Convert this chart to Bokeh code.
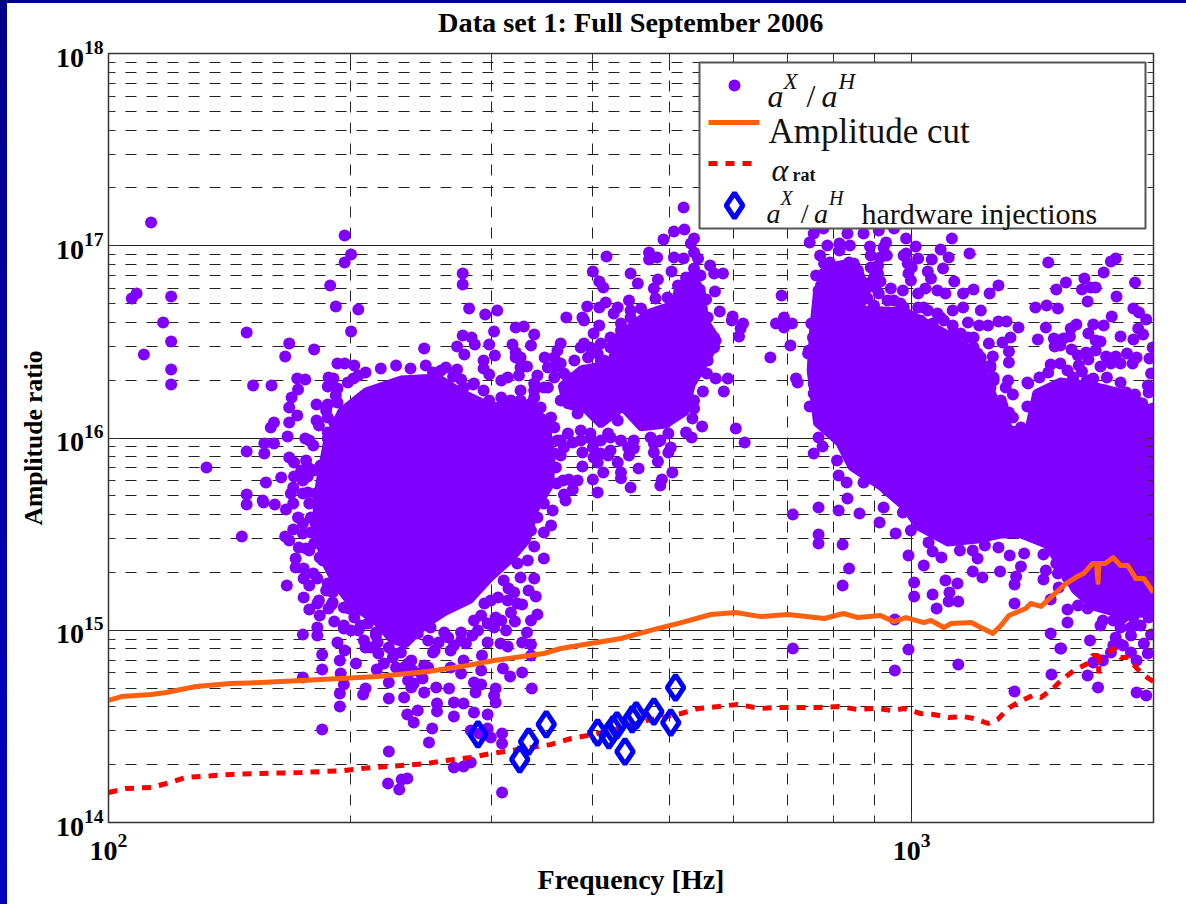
from bokeh.plotting import figure
from bokeh.embed import file_html
from bokeh.resources import INLINE
from bokeh.models import (Range1d, FixedTicker, LogAxis, Grid, Label,
                          LogTickFormatter, LogScale, LinearScale)

title_text = "Data set 1: Full September 2006"
x_label = "Frequency [Hz]"
y_label = "Amplitude ratio"
x_major = [100, 1000]
x_minor = [200, 300, 400, 500, 600, 700, 800, 900, 2000]
y_major = [1e14, 1e15, 1e16, 1e17, 1e18]
y_minor = [m * 10.0 ** d for d in (14, 15, 16, 17) for m in (2, 3, 4, 5, 6, 7, 8, 9)]

# all values below are (log10 frequency [Hz], log10 amplitude ratio)
amplitude_cut = [(2.000,14.635),(2.016,14.655),(2.053,14.666),(2.072,14.676),(2.090,14.692),(2.109,14.707),(2.152,14.723),(2.190,14.728),(2.240,14.739),(2.289,14.749),(2.335,14.759),(2.398,14.785),(2.439,14.811),(2.480,14.843),(2.542,14.879),(2.563,14.905),(2.600,14.931),(2.638,14.957),(2.675,14.999),(2.713,15.040),(2.750,15.082),(2.781,15.092),(2.812,15.071),(2.846,15.082),(2.891,15.061),(2.915,15.087),(2.933,15.066),(2.961,15.077),(2.978,15.045),(2.993,15.066),(3.015,15.040),(3.024,15.051),(3.040,15.014),(3.049,15.035),(3.074,15.040),(3.086,15.014),(3.101,14.983),(3.111,15.025),(3.121,15.077),(3.142,15.113),(3.148,15.139),(3.161,15.124),(3.173,15.170),(3.192,15.243),(3.204,15.274),(3.214,15.295),(3.225,15.347),(3.230,15.347),(3.232,15.248),(3.233,15.347),(3.241,15.347),(3.251,15.378),(3.260,15.337),(3.269,15.337),(3.279,15.269),(3.289,15.269),(3.301,15.196)]
alpha_rat = [(2.000,14.156),(2.022,14.177),(2.053,14.182),(2.072,14.203),(2.096,14.234),(2.152,14.250),(2.190,14.255),(2.240,14.260),(2.293,14.270),(2.314,14.281),(2.348,14.291),(2.398,14.307),(2.418,14.322),(2.451,14.338),(2.476,14.359),(2.501,14.374),(2.551,14.406),(2.576,14.437),(2.597,14.453),(2.638,14.489),(2.671,14.531),(2.713,14.567),(2.734,14.593),(2.759,14.603),(2.783,14.614),(2.812,14.593),(2.831,14.598),(2.856,14.598),(2.881,14.598),(2.909,14.603),(2.933,14.588),(2.955,14.593),(2.976,14.583),(2.990,14.593),(3.011,14.567),(3.027,14.562),(3.046,14.546),(3.064,14.551),(3.077,14.541),(3.095,14.515),(3.107,14.536),(3.120,14.593),(3.132,14.624),(3.151,14.661),(3.161,14.650),(3.176,14.697),(3.186,14.739),(3.202,14.791),(3.219,14.827),(3.225,14.869),(3.232,14.869),(3.233,14.775),(3.234,14.858),(3.241,14.869),(3.251,14.905),(3.260,14.858),(3.269,14.858),(3.275,14.827),(3.285,14.780),(3.295,14.749),(3.301,14.733)]
injections = [(2.460,14.458),(2.512,14.328),(2.523,14.421),(2.545,14.510),(2.609,14.468),(2.623,14.453),(2.628,14.484),(2.633,14.505),(2.643,14.369),(2.652,14.536),(2.657,14.557),(2.679,14.577),(2.700,14.520),(2.706,14.702)]

# outlines of the areas where the dots merge into solid colour and cannot be told apart
solid_left = [(2.262,15.779),(2.271,15.987),(2.289,16.143),(2.320,16.247),(2.364,16.309),(2.410,16.320),(2.442,16.237),(2.476,16.169),(2.513,16.185),(2.545,16.101),(2.553,15.909),(2.551,15.753),(2.532,15.623),(2.522,15.467),(2.501,15.363),(2.476,15.269),(2.451,15.155),(2.420,15.092),(2.395,15.025),(2.370,14.921),(2.352,14.947),(2.333,15.040),(2.302,15.129),(2.283,15.233),(2.267,15.363),(2.258,15.519),(2.258,15.675)]
solid_link = [(2.563,16.273),(2.588,16.361),(2.625,16.393),(2.640,16.153),(2.613,16.065),(2.594,16.143),(2.569,16.169)]
solid_mid = [(2.634,16.533),(2.671,16.653),(2.704,16.700),(2.708,16.783),(2.727,16.861),(2.740,16.757),(2.744,16.611),(2.760,16.507),(2.744,16.393),(2.727,16.273),(2.719,16.133),(2.694,16.065),(2.663,16.050),(2.640,16.153),(2.600,16.143),(2.576,16.205),(2.588,16.299),(2.623,16.377)]
solid_right = [(2.876,16.559),(2.881,16.767),(2.899,16.897),(2.930,16.923),(2.946,16.767),(2.937,16.674),(2.993,16.663),(3.045,16.544),(3.077,16.455),(3.092,16.335),(3.105,16.195),(3.123,16.049),(3.144,16.039),(3.154,16.237),(3.185,16.299),(3.226,16.278),(3.276,16.226),(3.301,16.133),(3.301,15.077),(3.248,15.092),(3.226,15.118),(3.202,15.207),(3.185,15.337),(3.167,15.441),(3.136,15.493),(3.111,15.493),(3.082,15.467),(3.045,15.451),(3.008,15.534),(2.990,15.639),(2.961,15.743),(2.924,15.847),(2.909,15.971),(2.881,16.075),(2.873,16.351)]

dots_left = [(2.053,17.121),(2.294,17.053),(2.302,16.954),(2.294,16.913),(2.276,16.793),(2.283,16.684),(2.311,16.668),(2.302,16.554),(2.035,16.752),(2.029,16.726),(2.078,16.736),(2.068,16.601),(2.078,16.502),(2.044,16.434),(2.078,16.356),(2.078,16.278),(2.172,16.549),(2.225,16.492),(2.220,16.424),(2.256,16.460),(2.180,16.273),(2.203,16.273),(2.235,16.309),(2.245,16.304),(2.285,16.387),(2.294,16.387),(2.306,16.377),(2.311,16.325),(2.274,16.315),(2.280,16.310),(2.273,16.268),(2.298,16.289),(2.285,16.258),(2.236,16.252),(2.228,16.211),(2.225,16.159),(2.259,16.174),(2.273,16.174),(2.285,16.185),(2.235,16.117),(2.225,16.081),(2.206,16.081),(2.202,16.055),(2.259,16.091),(2.273,16.107),(2.281,16.081),(2.223,16.008),(2.245,15.997),(2.250,15.987),(2.273,16.029),(2.273,15.997),(2.206,15.971),(2.194,15.971),(2.194,15.919),(2.172,15.930),(2.122,15.847),(2.225,15.899),(2.231,15.872),(2.240,15.831),(2.250,15.841),(2.264,15.857),(2.215,15.795),(2.231,15.800),(2.248,15.800),(2.196,15.769),(2.172,15.706),(2.230,15.743),(2.248,15.717),(2.192,15.675),(2.227,15.711),(2.281,15.899),(2.273,15.847),(2.268,15.790),(2.287,15.935),(2.172,15.654),(2.166,15.488),(2.193,15.664),(2.207,15.654),(2.221,15.628),(2.230,15.659),(2.236,15.586),(2.250,15.659),(2.252,15.586),(2.230,15.524),(2.220,15.488),(2.225,15.467),(2.242,15.503),(2.237,15.430),(2.250,15.415),(2.233,15.373),(2.233,15.326),(2.267,15.363),(2.243,15.321),(2.222,15.233),(2.243,15.269),(2.250,15.233),(2.271,15.207),(2.243,15.170),(2.260,15.139),(2.250,15.108),(2.278,15.134),(2.263,15.077),(2.281,15.045),(2.299,15.113)]
dots_below = [(2.260,15.014),(2.242,14.978),(2.260,14.973),(2.293,15.009),(2.311,14.999),(2.333,14.973),(2.285,14.936),(2.266,14.874),(2.294,14.895),(2.288,14.843),(2.308,14.827),(2.266,14.796),(2.289,14.775),(2.242,14.754),(2.334,14.796),(2.320,14.910),(2.336,14.879),(2.355,14.879),(2.373,14.827),(2.393,14.817),(2.377,14.843),(2.293,14.718),(2.288,14.671),(2.320,14.697),(2.317,14.666),(2.349,14.645),(2.368,14.650),(2.377,14.702),(2.391,14.749),(2.349,14.728),(2.393,14.676),(2.408,14.702),(2.424,14.697),(2.409,14.619),(2.409,14.578),(2.385,14.583),(2.372,14.562),(2.380,14.520),(2.403,14.489),(2.430,14.624),(2.442,14.619),(2.430,14.551),(2.455,14.572),(2.472,14.562),(2.457,14.676),(2.455,14.728),(2.464,14.718),(2.482,14.697),(2.480,14.661),(2.482,14.624),(2.527,14.697),(2.288,14.603),(2.266,14.484),(2.399,14.416),(2.349,14.369),(2.430,14.286),(2.442,14.291),(2.451,14.312),(2.348,14.203),(2.365,14.224),(2.372,14.229),(2.362,14.172),(2.490,14.156),(2.490,14.463),(2.490,14.411),(2.472,14.489),(2.451,14.479),(2.462,14.463),(2.476,14.442)]
dots_left_rim = [(2.530,15.436),(2.542,15.508),(2.542,15.373),(2.530,15.269),(2.498,15.217),(2.523,15.207),(2.532,15.175),(2.515,15.134),(2.501,15.092),(2.534,15.082),(2.526,15.051),(2.506,15.045),(2.482,15.066),(2.495,14.999),(2.521,14.988),(2.472,15.035),(2.455,15.051),(2.453,14.973),(2.439,14.988),(2.418,14.988),(2.401,15.014),(2.472,14.936),(2.488,14.931),(2.497,14.915),(2.515,14.936),(2.526,14.926),(2.526,14.869),(2.445,14.931),(2.426,14.895),(2.404,14.884),(2.465,14.869),(2.442,14.843),(2.426,14.806),(2.439,14.775),(2.464,14.791),(2.491,14.801),(2.500,14.759),(2.515,14.780)]
dots_left_ring = [(2.242,15.779),(2.256,15.831),(2.242,15.711),(2.258,15.711),(2.242,15.555),(2.258,15.555),(2.252,15.508),(2.246,15.425),(2.256,15.451),(2.263,15.378),(2.255,15.295),(2.260,15.269),(2.273,15.243),(2.279,15.197),(2.262,15.155),(2.274,15.113),(2.279,15.144),(2.293,15.118),(2.306,15.066),(2.293,15.025),(2.302,14.999),(2.314,15.025),(2.323,15.035),(2.318,14.947),(2.333,14.988),(2.326,14.910),(2.335,14.936),(2.349,14.910),(2.354,14.858),(2.364,14.884),(2.343,14.827),(2.358,14.806),(2.368,14.806),(2.379,14.790),(2.389,14.775),(2.373,14.739),(2.380,14.723),(2.398,14.806),(2.406,14.895),(2.398,14.947),(2.385,14.983),(2.373,14.983),(2.411,14.936),(2.423,14.962),(2.430,14.921),(2.439,14.947),(2.460,14.999),(2.464,15.077),(2.480,15.014),(2.489,15.051),(2.509,15.139),(2.497,15.155),(2.485,15.170),(2.476,15.155),(2.468,15.139),(2.505,15.196),(2.492,15.259),(2.513,15.274),(2.509,15.347),(2.522,15.363),(2.526,15.519),(2.534,15.586),(2.542,15.659),(2.553,15.623),(2.538,15.711),(2.547,15.763),(2.305,16.310),(2.320,16.341),(2.339,16.362),(2.358,16.377),(2.376,16.362),(2.395,16.377),(2.414,16.351),(2.429,16.320),(2.283,16.221),(2.271,16.143),(2.262,16.065),(2.255,15.961),(2.246,15.883),(2.569,15.675),(2.563,15.909),(2.566,15.779),(2.551,15.545)]
dots_mid = [(2.716,17.199),(2.717,17.085),(2.704,17.074),(2.691,17.033),(2.729,17.038),(2.725,17.012),(2.673,16.965),(2.673,16.928),(2.683,16.939),(2.620,16.944),(2.704,16.939),(2.716,16.934),(2.729,16.965),(2.734,16.934),(2.749,16.897),(2.754,16.856),(2.765,16.856),(2.701,16.866),(2.729,16.882),(2.737,16.845),(2.719,16.835),(2.684,16.824),(2.603,16.866),(2.650,16.856),(2.659,16.804),(2.611,16.814),(2.616,16.783),(2.441,16.856),(2.441,16.798),(2.679,16.778),(2.736,16.772),(2.755,16.762),(2.681,16.726),(2.744,16.720),(2.619,16.705),(2.611,16.679),(2.596,16.684),(2.648,16.715),(2.634,16.679),(2.629,16.648),(2.449,16.674),(2.484,16.663),(2.469,16.642),(2.570,16.627),(2.590,16.627),(2.592,16.611),(2.761,16.658),(2.777,16.632),(2.776,16.611),(2.790,16.596),(2.787,16.570),(2.785,16.528),(2.507,16.575),(2.517,16.580),(2.530,16.538),(2.480,16.554),(2.441,16.533),(2.452,16.523),(2.456,16.486),(2.611,16.585),(2.604,16.543),(2.526,16.481),(2.503,16.486),(2.474,16.486),(2.434,16.476),(2.393,16.466),(2.481,16.429),(2.443,16.434),(2.507,16.445),(2.563,16.491),(2.592,16.491),(2.559,16.455),(2.543,16.419),(2.513,16.419),(2.467,16.403),(2.521,16.372),(2.434,16.356),(2.420,16.367),(2.467,16.361),(2.474,16.330),(2.404,16.341),(2.439,16.304),(2.534,16.325),(2.489,16.299),(2.497,16.315),(2.511,16.325),(2.454,16.278),(2.513,16.247)]
dots_link = [(2.442,16.263),(2.455,16.284),(2.467,16.247),(2.474,16.195),(2.489,16.211),(2.501,16.195),(2.513,16.195),(2.526,16.180),(2.538,16.159),(2.530,16.247),(2.542,16.263),(2.555,16.315),(2.563,16.387),(2.580,16.403),(2.572,16.315),(2.588,16.471),(2.600,16.471),(2.613,16.491),(2.625,16.523),(2.638,16.596),(2.650,16.663),(2.597,16.419),(2.613,16.403),(2.513,16.367),(2.507,16.419),(2.555,16.419),(2.547,16.367),(2.530,16.284),(2.476,16.159),(2.555,16.055),(2.572,16.023),(2.588,15.987),(2.600,16.023),(2.613,15.987),(2.625,16.003),(2.604,15.899),(2.613,15.919),(2.625,15.935),(2.567,15.951),(2.559,15.987),(2.647,15.951),(2.679,15.971),(2.687,15.987)]
dots_mid_rim = [(2.756,16.309),(2.771,16.309),(2.766,16.242),(2.740,16.242),(2.745,16.335),(2.729,16.195),(2.729,16.153),(2.727,16.101),(2.739,16.060),(2.781,16.049),(2.792,15.977),(2.719,16.029),(2.726,16.003),(2.697,16.023),(2.700,15.951),(2.697,15.925),(2.679,15.925),(2.684,15.878),(2.648,15.909),(2.654,15.945),(2.660,15.841),(2.702,15.821),(2.689,15.784),(2.687,15.753),(2.650,15.743),(2.638,15.821),(2.638,15.790),(2.634,15.873),(2.616,15.821),(2.609,15.873),(2.622,15.909),(2.590,15.925),(2.590,15.852),(2.603,15.784),(2.609,15.717),(2.573,15.784),(2.584,15.779),(2.578,15.732),(2.567,15.706),(2.600,15.997),(2.603,15.951),(2.578,15.977),(2.638,15.987),(2.622,16.023),(2.588,16.039),(2.563,15.987),(2.555,15.919),(2.557,15.847),(2.558,15.763),(2.542,15.779),(2.538,15.711),(2.567,16.335),(2.555,16.367),(2.547,16.263),(2.530,16.211),(2.563,16.195),(2.551,16.107),(2.584,16.127),(2.609,16.195),(2.600,16.283),(2.576,16.211),(2.592,16.351),(2.617,16.403),(2.609,16.439),(2.625,16.471),(2.638,16.559),(2.650,16.627),(2.663,16.674),(2.696,16.731),(2.709,16.793),(2.721,16.752),(2.746,16.627),(2.734,16.663),(2.754,16.523),(2.754,16.471),(2.746,16.403),(2.737,16.351),(2.634,16.091),(2.654,15.987),(2.675,16.003)]
dots_right_top = [(3.050,17.038),(3.072,16.960),(3.170,16.913),(2.878,17.064),(2.873,17.017),(2.890,17.090),(2.920,17.064),(2.940,17.064),(2.959,17.079),(2.978,17.090),(2.993,17.038),(2.895,17.001),(2.910,17.012),(2.923,17.001),(2.948,16.996),(2.968,17.017),(3.005,16.996),(3.036,16.980),(3.046,16.939),(2.886,16.949),(2.910,16.975),(2.949,16.949),(2.969,16.949),(2.993,16.960),(3.008,16.934),(3.025,16.928),(2.898,16.913),(2.922,16.913),(3.000,16.887),(3.039,16.882),(3.020,16.866),(2.881,16.845),(2.933,16.871),(2.958,16.897),(3.024,16.830),(2.999,16.819),(2.961,16.814),(3.053,16.814),(3.108,16.793),(3.180,16.772),(3.097,16.752),(3.077,16.772),(3.064,16.752),(3.017,16.778),(3.032,16.767),(3.042,16.752),(2.989,16.767),(2.974,16.778),(2.959,16.752),(3.008,16.752),(2.924,16.741),(2.838,16.741),(2.884,16.767),(2.945,16.804),(2.912,16.809),(2.895,16.752),(2.889,16.663),(3.154,16.679),(3.168,16.689),(3.182,16.674),(3.086,16.663),(3.064,16.679),(3.051,16.663),(2.841,16.627),(2.831,16.596),(2.841,16.575),(2.851,16.596),(3.108,16.606),(3.118,16.606),(3.133,16.575),(3.167,16.575),(3.095,16.585),(3.084,16.585),(3.070,16.601),(3.123,16.523),(3.157,16.512),(3.177,16.518),(3.178,16.476),(3.096,16.491),(3.113,16.497),(3.121,16.450),(3.101,16.424),(3.121,16.393),(2.849,16.481),(2.824,16.419),(2.856,16.309),(2.858,16.289),(3.120,16.299),(3.117,16.263),(3.126,16.226),(3.144,16.289),(2.873,16.164),(2.878,16.283),(2.878,16.231),(3.113,16.169),(3.144,16.164),(3.121,16.133),(2.875,16.596),(2.877,16.523),(2.872,16.455),(2.871,16.439),(2.881,16.367),(2.887,16.715),(2.937,16.783),(2.953,16.835),(2.978,16.715),(2.990,16.679),(3.015,16.679),(3.036,16.627),(3.052,16.544),(3.077,16.523),(3.082,16.440),(3.098,16.367),(3.086,16.387),(3.102,16.299),(3.111,16.195)]
dots_right_fill = [(2.891,16.908),(2.902,16.871),(2.912,16.887),(2.891,16.856),(2.902,16.830),(2.920,16.856),(2.930,16.835),(2.887,16.793),(2.897,16.767),(2.887,16.731),(2.912,16.731),(2.899,16.700),(2.912,16.679),(2.937,16.767),(2.945,16.726),(2.928,16.700),(2.953,16.689),(2.955,16.783),(2.949,16.887),(2.958,16.856),(2.970,16.715),(2.986,16.700),(3.008,16.679),(3.020,16.663),(3.032,16.648),(3.040,16.611),(3.026,16.596),(3.011,16.611),(3.061,16.544),(3.070,16.523),(3.051,16.585),(3.077,16.471),(3.086,16.419),(3.098,16.377),(3.102,16.315),(3.098,16.263),(3.111,16.159),(3.126,16.107),(3.136,16.055),(2.990,16.949),(2.995,16.908),(2.996,16.856),(2.965,16.991),(2.961,16.939)]
dots_right_low = [(2.884,16.003),(2.889,15.956),(2.878,15.919),(2.907,15.883),(2.909,15.805),(2.919,15.769),(2.940,15.769),(2.959,15.779),(2.970,15.727),(2.920,15.685),(2.884,15.638),(2.909,15.623),(2.852,15.602),(2.935,15.607),(2.965,15.638),(2.989,15.612),(2.960,15.560),(2.980,15.503),(2.999,15.519),(2.884,15.498),(2.884,15.451),(2.914,15.446),(3.021,15.456),(3.026,15.409),(3.037,15.378),(2.996,15.389),(3.060,15.415),(3.082,15.373),(3.076,15.415),(3.015,15.337),(2.922,15.321),(3.076,15.306),(3.088,15.274),(3.110,15.306),(3.122,15.389),(3.140,15.399),(3.108,15.430),(3.091,15.441),(3.096,15.519),(3.136,15.332),(3.130,15.280),(3.128,15.238),(3.164,15.394),(3.164,15.264),(3.167,15.311),(3.180,15.347),(3.182,15.295),(3.003,15.248),(3.003,15.176),(3.042,15.259),(3.057,15.243),(3.026,15.186),(3.047,15.196),(3.046,15.150),(3.058,15.150),(3.031,15.113),(2.914,15.233),(3.128,15.139),(3.173,15.160),(2.979,15.056),(3.173,14.983),(2.852,14.905),(2.996,14.900),(3.185,14.905),(3.058,14.822),(2.979,14.791),(3.174,14.770),(3.128,14.681)]
dots_far_right = [(3.254,16.934),(3.248,16.918),(3.239,16.861),(3.192,16.809),(3.215,16.830),(3.278,16.809),(3.212,16.772),(3.223,16.783),(3.229,16.783),(3.255,16.736),(3.219,16.710),(3.276,16.674),(3.283,16.653),(3.292,16.616),(3.249,16.632),(3.205,16.590),(3.198,16.570),(3.226,16.590),(3.239,16.585),(3.220,16.544),(3.282,16.570),(3.260,16.528),(3.288,16.538),(3.276,16.512),(3.189,16.518),(3.197,16.528),(3.185,16.481),(3.229,16.507),(3.235,16.502),(3.300,16.471),(3.199,16.460),(3.229,16.455),(3.217,16.445),(3.207,16.429),(3.268,16.440),(3.242,16.424),(3.254,16.424),(3.280,16.419),(3.296,16.414),(3.173,16.382),(3.185,16.387),(3.220,16.408),(3.208,16.377),(3.235,16.372),(3.248,16.387),(3.260,16.387),(3.275,16.387),(3.194,16.351),(3.212,16.346),(3.170,16.341),(3.298,16.335),(3.159,16.315),(3.145,16.283),(3.201,16.315),(3.226,16.309),(3.218,16.299),(3.243,16.315),(3.198,16.258),(3.260,16.289),(3.241,16.247),(3.294,16.273),(3.295,16.237),(3.278,16.226),(3.267,16.237),(3.287,16.180),(3.157,16.211),(3.300,16.154),(3.285,16.117),(3.300,16.076)]
dots_far_right_low = [(3.194,15.108),(3.194,15.040),(3.207,15.129),(3.219,15.113),(3.186,14.905),(3.222,14.947),(3.238,15.051),(3.235,15.025),(3.254,14.962),(3.273,14.973),(3.298,14.978),(3.289,14.931),(3.294,14.879),(3.251,14.921),(3.263,14.921),(3.273,14.884),(3.280,14.843),(3.248,14.884),(3.238,14.843),(3.226,14.832),(3.219,14.765),(3.232,14.702),(3.280,14.676),(3.292,14.660),(3.295,15.066),(3.285,15.025),(3.263,15.066),(3.276,15.066),(3.251,15.051),(3.260,15.014),(3.273,15.014),(3.183,15.222),(3.194,15.274),(3.148,15.493),(3.123,15.519),(3.060,15.467),(3.024,15.519),(3.185,15.389)]

legend_rows = ["Amplitude cut", "hardware injections"]

PURPLE, ORANGE, RED, BLUE = "#8000ff", "#ff6010", "#ff0000", "#0000ff"
SERIF = "Liberation Serif"


def xs(pairs):
    return [10 ** a for a, _ in pairs]


def ys(pairs):
    return [10 ** b for _, b in pairs]


p = figure(frame_width=1045, frame_height=769, min_border_left=108, min_border_right=25,
           min_border_top=53, min_border_bottom=74, x_axis_type=None, y_axis_type=None,
           x_range=Range1d(100, 2000), y_range=Range1d(1e14, 1e18), x_axis_location=None,
           y_axis_location=None, toolbar_location=None, output_backend="svg",
           background_fill_color="white", border_fill_color=None)
p.x_scale = LogScale()
p.y_scale = LogScale()
p.extra_x_ranges["px"] = Range1d(108, 1153)
p.extra_y_ranges["px"] = Range1d(822, 53)
p.extra_x_scales["px"] = LinearScale()
p.extra_y_scales["px"] = LinearScale()
p.outline_line_color = "#333333"
p.outline_line_width = 1.5


def make_axis(major, minor, text=None, labels=True):
    a = LogAxis(ticker=FixedTicker(ticks=major, minor_ticks=minor),
                formatter=LogTickFormatter(), axis_line_color="#333333")
    a.major_tick_in, a.major_tick_out = 10, 0
    a.minor_tick_in, a.minor_tick_out = 6, 0
    a.major_tick_line_color = a.minor_tick_line_color = "#333333"
    if labels:
        a.major_label_text_font = SERIF
        a.major_label_text_font_style = "bold"
        a.major_label_text_font_size = "28px"
        a.major_label_text_color = "black"
        a.major_label_standoff = 5
    if text:
        a.axis_label = text
        a.axis_label_text_font = SERIF
        a.axis_label_text_font_style = "bold"
        a.axis_label_text_font_size = "28px"
        a.axis_label_text_color = "black"
    return a


left = make_axis(y_major, y_minor, y_label)
left.axis_label_standoff = 5
left.axis_label_text_font_size = "25.5px"
bottom = make_axis(x_major, x_minor, x_label)
bottom.major_label_standoff = 11
bottom.axis_label_standoff = 1
top = make_axis([], x_major + x_minor, title_text, labels=False)
top.axis_label_standoff = 16
top.axis_label_text_font_size = "28.3px"
p.add_layout(left, "left")
p.add_layout(bottom, "below")
p.add_layout(top, "above")
p.add_layout(make_axis([], y_major + y_minor, labels=False), "right")

for dim, major, minor in ((0, x_major, x_minor), (1, y_major, y_minor)):
    p.add_layout(Grid(dimension=dim, ticker=FixedTicker(ticks=major, minor_ticks=minor),
                      grid_line_color="#222222", grid_line_width=1,
                      minor_grid_line_color="#222222", minor_grid_line_width=1,
                      minor_grid_line_dash="11 10", minor_grid_line_dash_offset=4))

for solid in (solid_left, solid_link, solid_mid, solid_right):
    p.patch(xs(solid), ys(solid), fill_color=PURPLE, line_color=PURPLE, line_width=6)

dots = (dots_left + dots_below + dots_left_rim + dots_left_ring + dots_mid + dots_link
        + dots_mid_rim + dots_right_top + dots_right_fill + dots_right_low + dots_far_right
        + dots_far_right_low)
p.scatter(xs(dots), ys(dots), marker="circle", size=12, fill_color=PURPLE, line_color=None)
p.line(xs(amplitude_cut), ys(amplitude_cut), line_color=ORANGE, line_width=5, line_join="round")
p.line(xs(alpha_rat), ys(alpha_rat), line_color=RED, line_width=5, line_dash="9 8")
p.scatter(xs(injections), ys(injections), marker="diamond", size=25, fill_color=None,
          line_color=BLUE, line_width=5)

# legend: placed in page pixels on an extra range, above the data
px = dict(x_range_name="px", y_range_name="px")
p.quad(left=[699], right=[1145], top=[62], bottom=[228], fill_color="white",
       line_color="#555555", line_width=2, level="annotation", **px)
p.scatter([734], [85], marker="circle", size=12, fill_color=PURPLE, line_color=None, level="overlay", **px)
p.line([708, 759], [122, 122], line_color=ORANGE, line_width=5, level="overlay", **px)
p.line([708, 759], [163, 163], line_color=RED, line_width=5, line_dash="9 8", level="overlay", **px)
p.scatter([734], [205], marker="diamond", size=25, fill_color=None, line_color=BLUE, line_width=5, level="overlay", **px)


def lab(x, y, text, size, style="normal"):
    p.add_layout(Label(x=x, y=y, text=text, text_font=SERIF, text_font_size=f"{size}px",
                       text_font_style=style, text_color="#111111", text_baseline="alphabetic",
                       level="overlay", **px))


for x0, y0, y1 in ((767, 95, 81), (766, 213, 197)):
    s = 1 if y0 == 95 else 0.88
    lab(x0, y0, "a", round(32 * s), "italic")
    lab(x0 + 16 * s, y1, "X", round(23 * s), "italic")
    lab(x0 + 39 * s, y0, "/", round(32 * s))
    lab(x0 + 54 * s, y0, "a", round(32 * s), "italic")
    lab(x0 + 71 * s, y1, "H", round(23 * s), "italic")
lab(771, 169, "\u03b1", 32, "italic")
lab(792, 174, "rat", 18, "bold")
lab(768, 131, legend_rows[0], 35)
lab(861, 213, legend_rows[1], 30)

html = file_html(p, INLINE)
css = ("<style>html{background-color:white;background-image:"
       "linear-gradient(#00008a,#00008a),linear-gradient(#000088,#0000c4);"
       "background-size:100% 3px,7px 100%;background-repeat:no-repeat;}"
       "body{background:transparent;}</style></head>")
html = html.replace("</head>", css, 1)
open("out.html", "w").write(html)
